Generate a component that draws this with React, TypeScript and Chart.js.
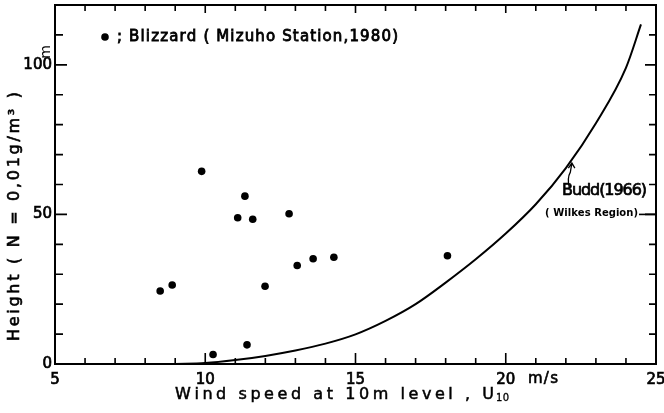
import React, { useEffect, useRef } from "react";
import { Chart, registerables } from "chart.js";

Chart.register(...registerables);

// ---- data ----
const blizzardSpeed = [8.5, 8.9, 9.88, 11.32, 11.08, 11.58, 12.79, 13.06, 13.59, 14.28, 11.99, 11.39, 10.26, 18.06];
const blizzardHeight = [24.4, 26.4, 64.4, 56.1, 48.9, 48.4, 50.2, 32.9, 35.2, 35.7, 26.0, 6.4, 3.2, 36.2];

const buddSpeed = [9, 10, 11, 12, 13, 14, 15, 16, 17, 18, 19, 20, 21, 22, 23, 24, 24.5];
const buddHeight = [0, 0.3, 1.3, 2.7, 4.5, 6.8, 9.9, 14.4, 20.0, 27.2, 35.0, 43.6, 53.4, 65.5, 80.5, 99, 113.5];

const xLabelValues = [5, 10, 15, 20, 25];
const xLabelTexts = ["5", "10", "15", "20", "25"];
const yLabelValues = [0, 50, 100];
const yLabelTexts = ["0", "50", "100"];

const legendText = "; Blizzard ( Mizuho Station,1980)";
const curveName = "Budd(1966)";
const curveRegion = "( Wilkes Region)";
const yTitle = "Height ( N = 0,01g/m³ )";
const yUnit = "m";
const xTitleMain = "Wind speed at 10m level , U";
const xTitleSub = "10";
const xUnit = "m/s";

const FONT = "'DejaVu Sans', sans-serif";

function drawSpaced(ctx: CanvasRenderingContext2D, text: string, x: number, y: number, width: number, stroke = 0.6) {
  const chars = Array.from(text);
  const widths = chars.map((c) => ctx.measureText(c).width);
  const total = widths.reduce((a, b) => a + b, 0);
  const gap = chars.length > 1 ? (width - total) / (chars.length - 1) : 0;
  let cx = x;
  ctx.lineWidth = stroke;
  chars.forEach((c, i) => {
    ctx.fillText(c, cx, y);
    if (stroke > 0) ctx.strokeText(c, cx, y);
    cx += widths[i] + gap;
  });
}

const framePlugin = {
  id: "frameAndText",
  afterDraw(chart: any) {
    const ctx: CanvasRenderingContext2D = chart.ctx;
    const a = chart.chartArea;
    const xs = chart.scales.x;
    const ys = chart.scales.y;
    ctx.save();
    ctx.strokeStyle = "#000";
    ctx.fillStyle = "#000";
    ctx.lineWidth = 2;
    ctx.strokeRect(a.left, a.top, a.right - a.left, a.bottom - a.top);

    ctx.lineWidth = 1.6;
    ctx.beginPath();
    for (let v = 5; v <= 25; v++) {
      const px = xs.getPixelForValue(v);
      const major = v % 5 === 0;
      ctx.moveTo(px, a.bottom);
      ctx.lineTo(px, a.bottom - (major ? 11 : 6));
      ctx.moveTo(px, a.top);
      ctx.lineTo(px, a.top + (major ? 8 : 6));
    }
    for (let v = 0; v <= 120; v += 10) {
      const py = ys.getPixelForValue(v);
      const major = v % 50 === 0;
      ctx.moveTo(a.left, py);
      ctx.lineTo(a.left + (major ? 12 : 8), py);
      ctx.moveTo(a.right, py);
      ctx.lineTo(a.right - (major ? 11 : 7), py);
    }
    ctx.stroke();

    // legend
    ctx.beginPath();
    ctx.arc(a.left + 50, a.top + 32, 3.8, 0, Math.PI * 2);
    ctx.fill();
    ctx.textBaseline = "middle";
    ctx.textAlign = "left";
    ctx.font = `15px ${FONT}`;
    drawSpaced(ctx, legendText, a.left + 62, a.top + 32, 281, 0.8);

    // curve annotation
    const tipX = xs.getPixelForValue(22.2);
    const tipY = ys.getPixelForValue(67.5);
    ctx.lineWidth = 1.3;
    ctx.beginPath();
    ctx.moveTo(tipX - 2.5, tipY + 26);
    ctx.quadraticCurveTo(tipX - 5, tipY + 16, tipX - 1.5, tipY + 10);
    ctx.lineTo(tipX, tipY + 1);
    ctx.moveTo(tipX - 3.5, tipY + 6);
    ctx.lineTo(tipX, tipY + 1);
    ctx.lineTo(tipX + 3, tipY + 6);
    ctx.stroke();

    ctx.font = `16px ${FONT}`;
    drawSpaced(ctx, curveName, 562, 191, 85, 0.7);
    ctx.font = `bold 10px ${FONT}`;
    drawSpaced(ctx, curveRegion, 545, 213, 93, 0);
    ctx.lineWidth = 1.6;
    ctx.beginPath();
    ctx.moveTo(639, ys.getPixelForValue(50));
    ctx.lineTo(a.right, ys.getPixelForValue(50));
    ctx.stroke();

    // x unit next to the 20 label
    ctx.font = `15px ${FONT}`;
    ctx.textBaseline = "middle";
    drawSpaced(ctx, xUnit, 528, 379, 30, 0.6);

    // x title
    ctx.font = `16px ${FONT}`;
    drawSpaced(ctx, xTitleMain, 175, 395, 319, 0.5);
    ctx.font = `10px ${FONT}`;
    drawSpaced(ctx, xTitleSub, 496, 398, 13, 0.3);

    // y title (rotated)
    ctx.save();
    ctx.translate(15, 341);
    ctx.rotate(-Math.PI / 2);
    ctx.font = `16px ${FONT}`;
    drawSpaced(ctx, yTitle, 0, 0, 249, 0.6);
    ctx.restore();

    // y unit (rotated m)
    ctx.save();
    ctx.translate(46, 52);
    ctx.rotate(-Math.PI / 2);
    ctx.textAlign = "center";
    ctx.font = `14px ${FONT}`;
    ctx.fillText(yUnit, 0, 0);
    ctx.restore();

    ctx.restore();
  },
};

export default function App() {
  const canvasRef = useRef<HTMLCanvasElement | null>(null);

  useEffect(() => {
    document.body.style.margin = "0";
    const canvas = canvasRef.current;
    if (!canvas) return;
    const chart = new Chart(canvas, {
      type: "scatter",
      data: {
        datasets: [
          {
            label: "Blizzard (Mizuho Station, 1980)",
            data: blizzardSpeed.map((x, i) => ({ x, y: blizzardHeight[i] })),
            backgroundColor: "#000",
            borderColor: "#000",
            pointRadius: 3.8,
            pointBorderWidth: 0,
            showLine: false,
          },
          {
            label: "Budd (1966)",
            data: buddSpeed.map((x, i) => ({ x, y: buddHeight[i] })),
            borderColor: "#000",
            backgroundColor: "#000",
            borderWidth: 2,
            pointRadius: 0,
            showLine: true,
            cubicInterpolationMode: "monotone",
          },
        ],
      },
      options: {
        animation: false,
        responsive: false,
        events: [],
        layout: { padding: { left: 0, right: 8, top: 5, bottom: 0 } },
        plugins: { legend: { display: false }, tooltip: { enabled: false }, title: { display: false } },
        scales: {
          x: {
            type: "linear",
            min: 5,
            max: 25,
            grid: { drawOnChartArea: false, drawTicks: false },
            border: { display: false },
            ticks: {
              stepSize: 1,
              autoSkip: false,
              maxRotation: 0,
              padding: 7,
              color: "#000",
              textStrokeColor: "#000",
              textStrokeWidth: 0.7,
              font: { family: FONT, size: 15 },
              callback: (v: any) => {
                const i = xLabelValues.indexOf(Number(v));
                return i >= 0 ? xLabelTexts[i] : "";
              },
            },
            afterFit: (s: any) => {
              s.height = 49;
              s.paddingLeft = 0;
              s.paddingRight = 0;
            },
          },
          y: {
            type: "linear",
            min: 0,
            max: 120,
            grid: { drawOnChartArea: false, drawTicks: false },
            border: { display: false },
            ticks: {
              stepSize: 10,
              autoSkip: false,
              padding: 3,
              color: "#000",
              textStrokeColor: "#000",
              textStrokeWidth: 0.7,
              font: { family: FONT, size: 15 },
              callback: (v: any) => {
                const i = yLabelValues.indexOf(Number(v));
                return i >= 0 ? yLabelTexts[i] : "";
              },
            },
            afterFit: (s: any) => {
              s.width = 55;
              s.paddingTop = 0;
              s.paddingBottom = 0;
            },
          },
        },
      },
      plugins: [framePlugin],
    } as any);
    return () => chart.destroy();
  }, []);

  return (
    <div style={{ width: 664, height: 413, position: "relative", background: "#fff" }}>
      <canvas ref={canvasRef} width={664} height={413} />
    </div>
  );
}
